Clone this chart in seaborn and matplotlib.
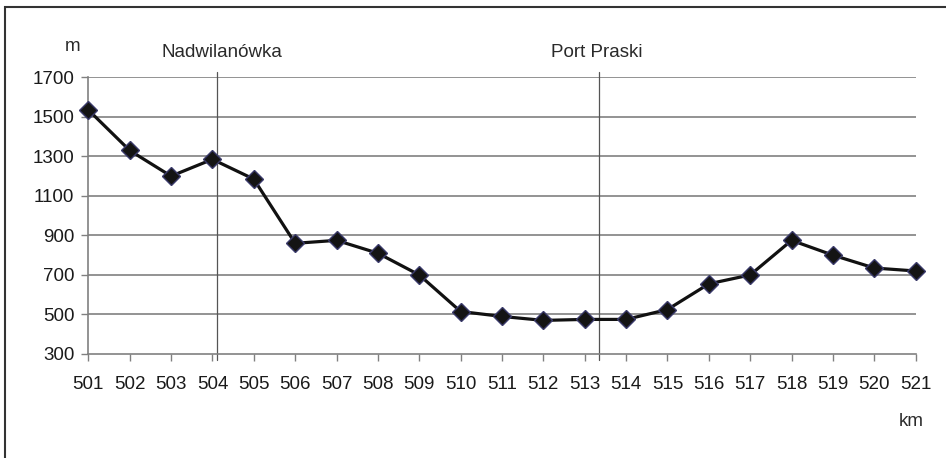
import matplotlib
matplotlib.use("Agg")
import matplotlib.pyplot as plt
import seaborn as sns
import pandas as pd
from matplotlib.patches import Rectangle

# ---- data ----
km = [501, 502, 503, 504, 505, 506, 507, 508, 509, 510, 511,
      512, 513, 514, 515, 516, 517, 518, 519, 520, 521]
width_m = [1535, 1330, 1200, 1285, 1185, 860, 875, 810, 700, 515, 490,
           470, 475, 475, 525, 655, 700, 875, 800, 735, 720]
y_ticks = [300, 500, 700, 900, 1100, 1300, 1500, 1700]
place_names = ["Nadwilanówka", "Port Praski"]
place_km = [504.12, 513.35]
y_unit = "m"
x_unit = "km"

df = pd.DataFrame({"km": km, "width": width_m})

sns.set_theme(style="white")
plt.rcParams["font.family"] = ["Liberation Sans", "DejaVu Sans"]

fig = plt.figure(figsize=(9.46, 4.58), dpi=100)
ax = fig.add_axes([88.3 / 946, 1 - 354 / 458, (915.7 - 88.3) / 946, (354 - 77.3) / 458])

# gridlines
for yv in y_ticks[1:]:
    ax.axhline(yv, color="#808080", lw=1.2, zorder=1)

# place lines
for xv in place_km:
    ax.axvline(xv, ymin=-0.022, ymax=1.02, color="#555555", lw=0.9,
               clip_on=False, zorder=2)

sns.lineplot(data=df, x="km", y="width", ax=ax, color="#111111", lw=2.3,
             marker="D", markersize=9, markerfacecolor="#141414",
             markeredgecolor="#3a3a6a", markeredgewidth=1.0,
             clip_on=False, zorder=5)

ax.set_xlim(km[0], km[-1])
ax.set_ylim(y_ticks[0], y_ticks[-1])
ax.set_xticks(km)
ax.set_xticklabels([str(k) for k in km])
ax.set_yticks(y_ticks)
ax.set_yticklabels([str(v) for v in y_ticks])
ax.set_xlabel("")
ax.set_ylabel("")

for s in ["top", "right"]:
    ax.spines[s].set_visible(False)
for s in ["left", "bottom"]:
    ax.spines[s].set_color("#808080")
    ax.spines[s].set_linewidth(1.2)

ax.tick_params(axis="both", which="both", direction="out", length=5, width=1.0,
               color="#808080", labelsize=13.5, labelcolor="#1a1a1a")
ax.tick_params(axis="x", pad=10.5, bottom=True)
ax.tick_params(axis="y", pad=5, left=True)

# unit labels and place names
txt_kw = dict(fontsize=13.5, color="#2a2a2a")
fig.text(72.5 / 946, 1 - 50.7 / 458, y_unit, ha="center", va="baseline", **txt_kw)
fig.text(910.8 / 946, 1 - 425.7 / 458, x_unit, ha="center", va="baseline", **txt_kw)
name_x = [222 / 946, 596.7 / 946]
for nm, xx in zip(place_names, name_x):
    fig.text(xx, 1 - 56.7 / 458, nm, ha="center", va="baseline", **txt_kw)

# outer frame (left and top edges visible)
fig.patches.append(Rectangle((4.5 / 946, -0.1), 1.2, 1 - 6.5 / 458 + 0.1,
                             transform=fig.transFigure, fill=False,
                             edgecolor="#333333", lw=1.5))

fig.savefig("out.png", dpi=100)
